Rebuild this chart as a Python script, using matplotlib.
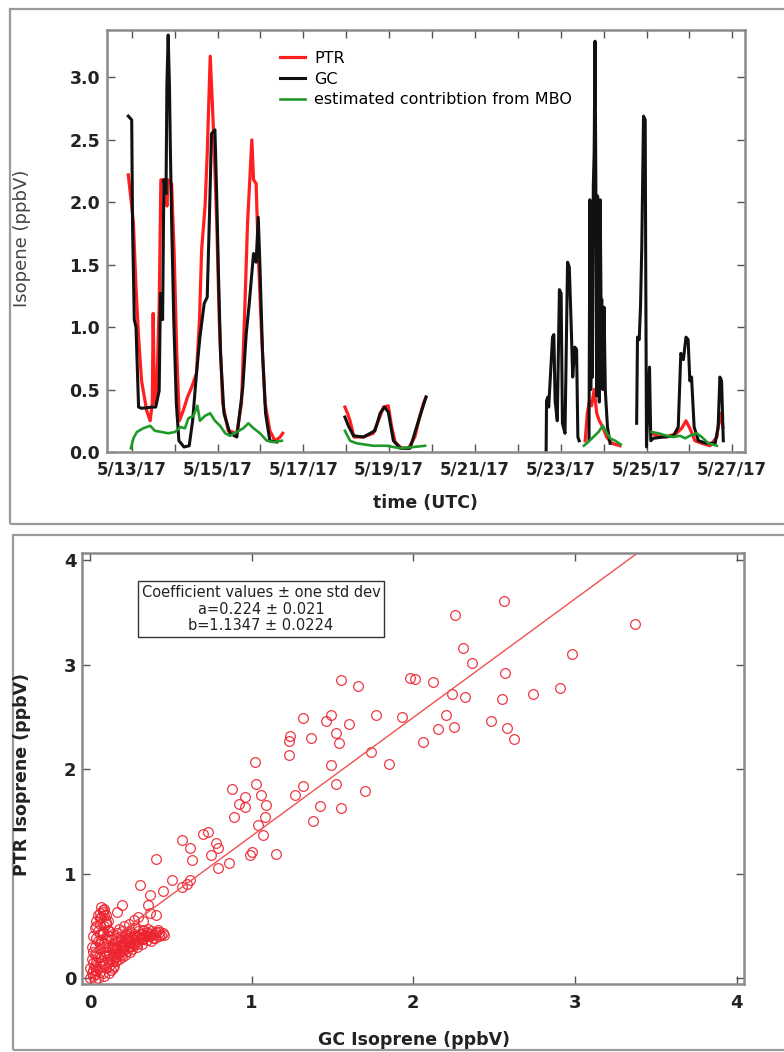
import numpy as np
import matplotlib
matplotlib.use('Agg')
import matplotlib.pyplot as plt
from matplotlib.patches import Rectangle
from matplotlib.ticker import MultipleLocator, FixedLocator, FuncFormatter

plt.rcParams['font.family'] = ['DejaVu Sans']

nan = np.nan

# time series, day of May 2017 (UTC) ; nan breaks the line between campaign blocks
ptr_day = [12.92, 13.00, 13.04, 13.10, 13.16, 13.23, 13.35, 13.43, 13.48, 13.50, 13.53, 13.58,
           13.64, 13.68, 13.78, 13.82, 13.85, 13.93, 13.99, 14.05, 14.11, 14.20, 14.30, 14.40,
           14.51, 14.58, 14.63, 14.71, 14.76, 14.83, 14.88, 14.92, 14.98, 15.04, 15.12, 15.25,
           15.45, 15.56, 15.64, 15.70, 15.80, 15.84, 15.90, 15.95, 16.03, 16.11, 16.22, 16.34,
           16.46, 16.52, nan,
           17.97, 18.03, 18.09, 18.18, 18.40, 18.63, 18.75, 18.87, 18.98, 19.06, 19.14, 19.29,
           19.45, 19.60, 19.71, 19.80, 19.86, nan,
           23.57, 23.62, 23.67, 23.72, 23.78, 23.84, 23.90, 23.98, 24.07, 24.19, 24.38, nan,
           25.12, 25.24, 25.47, 25.70, 25.82, 25.92, 26.01, 26.13, 26.29, 26.48, 26.64, 26.71,
           26.78]
ptr_val = [2.22, 1.97, 1.83, 1.32, 0.92, 0.57, 0.33, 0.25, 0.39, 1.11, 0.39, 0.47,
           1.16, 2.18, 2.18, 1.97, 2.18, 2.15, 1.59, 0.79, 0.25, 0.33, 0.44, 0.52,
           0.63, 1.06, 1.62, 1.97, 2.39, 3.17, 2.79, 2.45, 1.86, 1.06, 0.39, 0.17,
           0.15, 0.39, 1.19, 1.83, 2.50, 2.18, 2.15, 1.59, 0.92, 0.39, 0.17, 0.09,
           0.12, 0.15, nan,
           0.36, 0.31, 0.25, 0.12, 0.12, 0.15, 0.25, 0.36, 0.37, 0.20, 0.08, 0.03,
           0.03, 0.12, 0.28, 0.39, 0.44, nan,
           0.09, 0.31, 0.41, 0.37, 0.50, 0.31, 0.25, 0.20, 0.12, 0.07, 0.05, nan,
           0.15, 0.13, 0.12, 0.15, 0.19, 0.25, 0.19, 0.09, 0.07, 0.05, 0.12, 0.31,
           0.20]

gc_day = [12.92, 13.00, 13.02, 13.06, 13.10, 13.16, 13.23, 13.50, 13.56, 13.64, 13.67, 13.72,
          13.75, 13.80, 13.82, 13.85, 13.88, 13.90, 13.93, 13.98, 14.04, 14.10, 14.22, 14.34,
          14.42, 14.51, 14.59, 14.63, 14.69, 14.76, 14.81, 14.86, 14.94, 14.98, 15.02, 15.07,
          15.15, 15.29, 15.45, 15.59, 15.67, 15.74, 15.80, 15.84, 15.90, 15.95, 15.99, 16.05,
          16.12, 16.22, 16.38, nan,
          17.97, 18.05, 18.17, 18.40, 18.67, 18.79, 18.89, 18.98, 19.10, 19.26, 19.49, 19.64,
          19.76, 19.86, nan,
          22.66, 22.67, 22.70, 22.72, 22.77, 22.81, 22.84, 22.87, 22.92, 22.97, 23.01, 23.04,
          23.10, 23.16, 23.20, 23.24, 23.28, 23.33, 23.37, 23.40, 23.43, nan,
          23.66, 23.68, 23.70, 23.72, 23.74, 23.76, 23.78, 23.80, 23.82, 23.84, 23.86, 23.88,
          23.90, 23.92, 23.94, 23.96, 23.98, 24.01, 24.04, 24.09, 24.15, nan,
          24.77, 24.79, 24.83, 24.86, 24.89, 24.93, 24.97, 24.98, 25.00, 25.07, 25.10, 25.16,
          25.39, 25.63, 25.74, 25.80, 25.86, 25.92, 25.97, 26.01, 26.05, 26.11, 26.21, 26.40,
          26.60, 26.67, 26.71, 26.75, 26.79]
gc_val = [2.69, 2.66, 1.80, 1.06, 1.00, 0.36, 0.35, 0.36, 0.36, 0.49, 1.27, 1.06,
          2.18, 2.07, 2.93, 3.34, 2.93, 2.45, 1.86, 1.06, 0.39, 0.09, 0.04, 0.05,
          0.25, 0.63, 0.92, 1.03, 1.19, 1.24, 1.86, 2.55, 2.58, 2.07, 1.46, 0.79,
          0.31, 0.15, 0.12, 0.52, 0.95, 1.19, 1.43, 1.59, 1.52, 1.88, 1.48, 0.79,
          0.31, 0.09, 0.08, nan,
          0.28, 0.21, 0.13, 0.12, 0.17, 0.31, 0.36, 0.32, 0.09, 0.03, 0.03, 0.20,
          0.33, 0.44, nan,
          0.01, 0.41, 0.44, 0.36, 0.68, 0.92, 0.94, 0.41, 0.25, 1.30, 1.27, 0.23,
          0.15, 1.52, 1.48, 1.06, 0.60, 0.84, 0.82, 0.12, 0.09, nan,
          0.10, 2.02, 0.50, 2.00, 0.60, 2.13, 2.40, 3.29, 2.10, 0.45, 2.05, 1.59,
          0.40, 2.02, 1.20, 1.22, 0.50, 1.16, 0.49, 0.20, 0.07, nan,
          0.23, 0.92, 0.90, 1.16, 1.64, 2.69, 2.66, 1.64, 0.04, 0.68, 0.09, 0.11,
          0.12, 0.13, 0.20, 0.79, 0.74, 0.92, 0.90, 0.57, 0.60, 0.20, 0.09, 0.07,
          0.07, 0.20, 0.60, 0.57, 0.09]

mbo_day = [12.98, 13.04, 13.12, 13.27, 13.43, 13.54, 13.70, 13.85, 14.01, 14.13, 14.24, 14.32,
           14.44, 14.53, 14.59, 14.71, 14.83, 14.94, 15.06, 15.18, 15.29, 15.45, 15.60, 15.72,
           15.84, 15.99, 16.15, 16.30, 16.50, nan,
           17.97, 18.09, 18.24, 18.63, 18.94, 19.26, 19.57, 19.84, nan,
           23.54, 23.64, 23.76, 23.88, 23.98, 24.06, 24.15, 24.27, 24.40, nan,
           25.12, 25.28, 25.47, 25.63, 25.78, 25.90, 26.01, 26.17, 26.29, 26.44, 26.64]
mbo_val = [0.03, 0.11, 0.16, 0.19, 0.21, 0.17, 0.16, 0.15, 0.16, 0.20, 0.19, 0.27,
           0.29, 0.37, 0.25, 0.29, 0.31, 0.25, 0.21, 0.15, 0.13, 0.16, 0.19, 0.23,
           0.19, 0.15, 0.09, 0.08, 0.09, nan,
           0.17, 0.09, 0.07, 0.05, 0.05, 0.03, 0.04, 0.05, nan,
           0.05, 0.08, 0.12, 0.16, 0.21, 0.16, 0.11, 0.09, 0.06, nan,
           0.16, 0.15, 0.13, 0.12, 0.13, 0.11, 0.13, 0.15, 0.12, 0.07, 0.05]

tick_days = [13, 15, 17, 19, 21, 23, 25, 27]

# PTR vs GC isoprene (ppbV)
gc_iso = [0.00, 0.01, 0.02, 0.00, 0.03, 0.01, 0.04, 0.02, 0.05, 0.03, 0.06, 0.04, 0.07, 0.05,
          0.08, 0.06, 0.09, 0.07, 0.10, 0.08, 0.11, 0.06, 0.09, 0.12, 0.10, 0.11, 0.13,
          0.12, 0.14, 0.15, 0.17, 0.18, 0.20, 0.21, 0.23, 0.24, 0.26, 0.27, 0.29, 0.30, 0.32,
          0.33, 0.35, 0.36, 0.38, 0.40, 0.42, 0.44, 0.16, 0.19, 0.22, 0.25, 0.28, 0.14, 0.18,
          0.21, 0.24, 0.27, 0.30,
          0.05, 0.08, 0.10, 0.12, 0.07, 0.15, 0.18, 0.20, 0.22, 0.13, 0.03, 0.09, 0.16, 0.25,
          0.11,
          0.01, 0.02, 0.03, 0.04, 0.05, 0.07, 0.09, 0.10, 0.11, 0.12, 0.13, 0.14, 0.05, 0.06,
          0.08, 0.09, 0.10, 0.07, 0.04, 0.02, 0.06, 0.08, 0.12, 0.14, 0.03,
          0.15, 0.17, 0.19, 0.20, 0.22, 0.23, 0.25, 0.26, 0.28, 0.29, 0.31, 0.32, 0.34, 0.35,
          0.37, 0.39, 0.41, 0.43, 0.45, 0.30, 0.33, 0.36, 0.27, 0.24, 0.21, 0.18, 0.16, 0.13,
          0.19, 0.23, 0.17, 0.20, 0.38, 0.40,
          0.02, 0.04, 0.06, 0.08, 0.10, 0.03, 0.05, 0.07, 0.09, 0.11, 0.04, 0.06, 0.08, 0.10,
          0.12, 0.14, 0.16, 0.18, 0.20, 0.22, 0.24, 0.26, 0.28, 0.30, 0.32, 0.34, 0.17, 0.21,
          0.25, 0.29, 0.33, 0.37, 0.15, 0.19, 0.23, 0.27, 0.31, 0.35, 0.39, 0.43,
          0.20, 0.17, 0.36, 0.37, 0.41, 0.33, 0.46, 0.37, 0.31, 0.45, 0.51, 0.57, 0.62, 0.60,
          0.41, 0.63, 0.86, 0.79, 0.57, 0.62, 0.70, 0.73, 0.78, 0.79, 0.75, 1.00, 0.99, 1.15,
          1.04, 1.07, 0.89, 1.08, 1.38, 0.92, 0.96, 1.09, 1.42, 1.55, 0.96, 1.06, 0.88, 1.03,
          1.27, 1.32, 1.52, 1.70,
          1.55, 1.66, 1.32, 1.49, 1.46, 1.60, 1.77, 1.93, 1.98, 1.24, 1.23, 1.37, 1.52, 1.54,
          1.23, 1.02, 1.49, 1.74, 1.85,
          2.56, 2.26, 3.37, 2.31, 2.36, 2.98, 2.57, 2.01, 2.12, 2.24, 2.32, 2.55, 2.74, 2.91,
          2.20, 2.15, 2.25, 2.06, 2.48, 2.58, 2.62]
ptr_iso = [0.00, 0.05, 0.02, 0.10, 0.12, 0.18, 0.08, 0.25, 0.20, 0.30, 0.28, 0.38, 0.35, 0.45,
           0.42, 0.52, 0.50, 0.58, 0.60, 0.65, 0.55, 0.62, 0.66, 0.45, 0.38, 0.30, 0.36,
           0.22, 0.28, 0.20, 0.30, 0.25, 0.33, 0.27, 0.36, 0.30, 0.38, 0.33, 0.40, 0.35, 0.42,
           0.38, 0.44, 0.40, 0.45, 0.42, 0.46, 0.41, 0.35, 0.40, 0.42, 0.45, 0.48, 0.42, 0.47,
           0.50, 0.52, 0.56, 0.58,
           0.00, 0.05, 0.10, 0.15, 0.12, 0.12, 0.18, 0.20, 0.22, 0.08, -0.02, 0.02, 0.16, 0.25,
           0.18,
           0.30, 0.40, 0.48, 0.55, 0.60, 0.68, 0.60, 0.52, 0.46, 0.40, 0.30, 0.22, 0.35, 0.42,
           0.30, 0.22, 0.25, 0.20, 0.15, 0.08, 0.06, 0.14, 0.05, 0.10, 0.22,
           0.30, 0.38, 0.33, 0.26, 0.31, 0.40, 0.34, 0.28, 0.36, 0.30, 0.38, 0.33, 0.40, 0.36,
           0.42, 0.38, 0.44, 0.40, 0.43, 0.45, 0.46, 0.47, 0.42, 0.38, 0.35, 0.31, 0.24, 0.18,
           0.22, 0.26, 0.43, 0.45, 0.35, 0.38,
           0.14, 0.24, 0.33, 0.44, 0.54, 0.04, 0.10, 0.16, 0.34, 0.40, 0.50, 0.57, 0.63, 0.30,
           0.12, 0.16, 0.20, 0.24, 0.29, 0.32, 0.35, 0.31, 0.34, 0.40, 0.37, 0.41, 0.28, 0.30,
           0.31, 0.33, 0.37, 0.40, 0.32, 0.36, 0.38, 0.40, 0.42, 0.43, 0.41, 0.44,
           0.70, 0.63, 0.70, 0.62, 0.60, 0.55, 0.41, 0.79, 0.89, 0.83, 0.94, 0.87, 0.94, 0.90,
           1.14, 1.13, 1.10, 1.05, 1.32, 1.24, 1.38, 1.40, 1.29, 1.24, 1.18, 1.21, 1.18, 1.19,
           1.46, 1.37, 1.54, 1.54, 1.50, 1.67, 1.64, 1.66, 1.65, 1.63, 1.73, 1.75, 1.81, 1.86,
           1.75, 1.84, 1.86, 1.79,
           2.85, 2.79, 2.49, 2.52, 2.46, 2.43, 2.52, 2.50, 2.87, 2.32, 2.27, 2.30, 2.34, 2.25,
           2.13, 2.07, 2.04, 2.16, 2.05,
           3.61, 3.47, 3.39, 3.16, 3.01, 3.10, 2.92, 2.86, 2.83, 2.72, 2.69, 2.67, 2.72, 2.78,
           2.52, 2.38, 2.40, 2.26, 2.46, 2.39, 2.29]

fit_a, fit_a_sd = 0.224, 0.021
fit_b, fit_b_sd = 1.1347, 0.0224

red = '#ff1f1f'
green = '#1f9a2a'
spine_c = '#8a8a8a'
txt_c = '#222222'

fig = plt.figure(figsize=(7.84, 10.52), dpi=100)

# grey panel frames
fig.add_artist(Rectangle((10 / 784, 1 - 524 / 1052), 0.999, (524 - 9) / 1052,
                         transform=fig.transFigure, fill=False, ec='#9a9a9a', lw=1.6))
fig.add_artist(Rectangle((13 / 784, 1 - 1050 / 1052), 0.999, (1050 - 535) / 1052,
                         transform=fig.transFigure, fill=False, ec='#9a9a9a', lw=1.6))

# ---- top: time series ----
ax1 = fig.add_axes([107 / 784, 1 - 452 / 1052, 638 / 784, 422 / 1052])
ax1.plot(ptr_day, ptr_val, color=red, lw=2.3, label='PTR')
ax1.plot(gc_day, gc_val, color='#111111', lw=2.2, label='GC')
ax1.plot(mbo_day, mbo_val, color=green, lw=1.9, label='estimated contribtion from MBO')
ax1.set_xlim(12.424, 27.296)
ax1.set_ylim(0, 3.38)
ax1.xaxis.set_major_locator(FixedLocator(tick_days))
ax1.xaxis.set_minor_locator(MultipleLocator(1))
ax1.xaxis.set_major_formatter(FuncFormatter(lambda d, p: '5/%d/17' % int(round(d))))
ax1.yaxis.set_major_locator(MultipleLocator(0.5))
ax1.yaxis.set_major_formatter(FuncFormatter(lambda v, p: '%.1f' % v))
ax1.tick_params(which='both', direction='in', top=True, right=True, length=6, width=1,
                color='#555555')
ax1.tick_params(axis='x', pad=6, labelsize=12, labelcolor=txt_c)
ax1.tick_params(axis='y', pad=5, labelsize=12.5, labelcolor=txt_c)
for lab in ax1.get_xticklabels() + ax1.get_yticklabels():
    lab.set_fontweight('bold')
for s in ax1.spines.values():
    s.set_color(spine_c)
    s.set_linewidth(1.8)
ax1.legend(loc='upper left', bbox_to_anchor=((280 - 107) / 638, (452 - 51) / 422),
           frameon=False, fontsize=11.5, handlelength=1.55, handletextpad=0.6,
           labelspacing=0.36, borderpad=0, borderaxespad=0)

fig.text(22 / 784, 1 - 238 / 1052, 'Isopene (ppbV)', rotation=90, ha='center', va='center',
         fontsize=13, color='#444444')
fig.text(425 / 784, 1 - 503 / 1052, 'time (UTC)', ha='center', va='center',
         fontsize=12.5, fontweight='bold', color=txt_c)

# ---- bottom: scatter with linear fit ----
ax2 = fig.add_axes([82 / 784, 1 - 984 / 1052, 662 / 784, 431 / 1052])
ax2.plot(gc_iso, ptr_iso, 'o', ms=7, mfc='none', mec='#ec2430', mew=0.9, alpha=0.9)
xf = np.array([0.0, 3.5])
ax2.plot(xf, fit_a + fit_b * xf, color='#f05050', lw=1.0)
ax2.set_xlim(-0.049, 4.045)
ax2.set_ylim(-0.057, 4.067)
ax2.xaxis.set_major_locator(MultipleLocator(1))
ax2.yaxis.set_major_locator(MultipleLocator(1))
ax2.tick_params(direction='in', top=True, right=True, length=6, width=1, color='#555555',
                labelsize=13, labelcolor=txt_c)
ax2.tick_params(axis='x', pad=7)
ax2.tick_params(axis='y', pad=4)
for lab in ax2.get_xticklabels() + ax2.get_yticklabels():
    lab.set_fontweight('bold')
for s in ax2.spines.values():
    s.set_color(spine_c)
    s.set_linewidth(1.8)

ax2.text((261 - 82) / 662, (984 - 609) / 431,
         'Coefficient values \u00b1 one std dev\n'
         'a=%.3f \u00b1 %.3f\nb=%.4f \u00b1 %.4f' % (fit_a, fit_a_sd, fit_b, fit_b_sd),
         transform=ax2.transAxes, ha='center', va='center', multialignment='center',
         fontsize=10.5, color=txt_c, linespacing=1.15,
         bbox=dict(boxstyle='square,pad=0.25', fc='white', ec='#333333', lw=1.0))

fig.text(22 / 784, 1 - 774 / 1052, 'PTR Isoprene (ppbV)', rotation=90, ha='center',
         va='center', fontsize=12.5, fontweight='bold', color=txt_c)
fig.text(414 / 784, 1 - 1040 / 1052, 'GC Isoprene (ppbV)', ha='center', va='center',
         fontsize=12.5, fontweight='bold', color=txt_c)

fig.savefig('out.png', dpi=100, facecolor='white')
